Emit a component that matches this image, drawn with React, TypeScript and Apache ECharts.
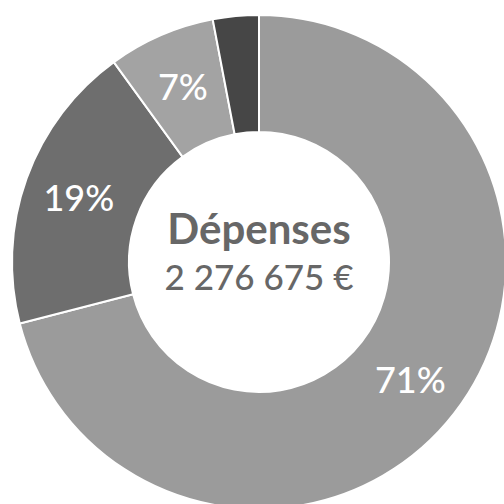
import React, { useEffect, useRef } from "react";
import * as echarts from "echarts";

const labels = ["A", "B", "C", "D"];
const values = [71, 19, 7, 3];
const shownLabels = ["71%", "19%", "7%", ""];
const colors = ["#9b9b9b", "#6e6e6e", "#a3a3a3", "#464646"];
const title = "Dépenses";
const subtitle = "2 276 675 €";

export default function App() {
  const ref = useRef<HTMLDivElement>(null);
  useEffect(() => {
    document.body.style.margin = "0";
    const chart = echarts.init(ref.current!, null, { renderer: "svg" });
    chart.setOption({
      animation: false,
      backgroundColor: "#ffffff",
      series: [
        {
          type: "pie",
          center: [259, 262],
          radius: [130, 247],
          startAngle: 90,
          clockwise: true,
          avoidLabelOverlap: false,
          itemStyle: { borderColor: "#ffffff", borderWidth: 2 },
          label: {
            show: true,
            position: "inside",
            color: "#ffffff",
            fontFamily: "Lato",
            fontWeight: 500,
            fontSize: 36,
            formatter: (p: any) => shownLabels[p.dataIndex],
          },
          labelLine: { show: false },
          emphasis: { disabled: true },
          data: values.map((v, i) => ({
            name: labels[i],
            value: v,
            itemStyle: { color: colors[i] },
          })),
        },
      ],
      title: [
        {
          text: title,
          left: 259,
          top: 207,
          padding: 0,
          textAlign: "center",
          textStyle: { color: "#676767", fontFamily: "Lato", fontWeight: "bold", fontSize: 42 },
        },
        {
          text: subtitle,
          left: 259,
          top: 258,
          padding: 0,
          textAlign: "center",
          textStyle: { color: "#676767", fontFamily: "Lato", fontWeight: 500, fontSize: 35 },
        },
      ],
    });
    return () => chart.dispose();
  }, []);
  return (
    <div
      ref={ref}
      style={{ position: "fixed", left: 0, top: 0, width: 504, height: 504 }}
    />
  );
}
